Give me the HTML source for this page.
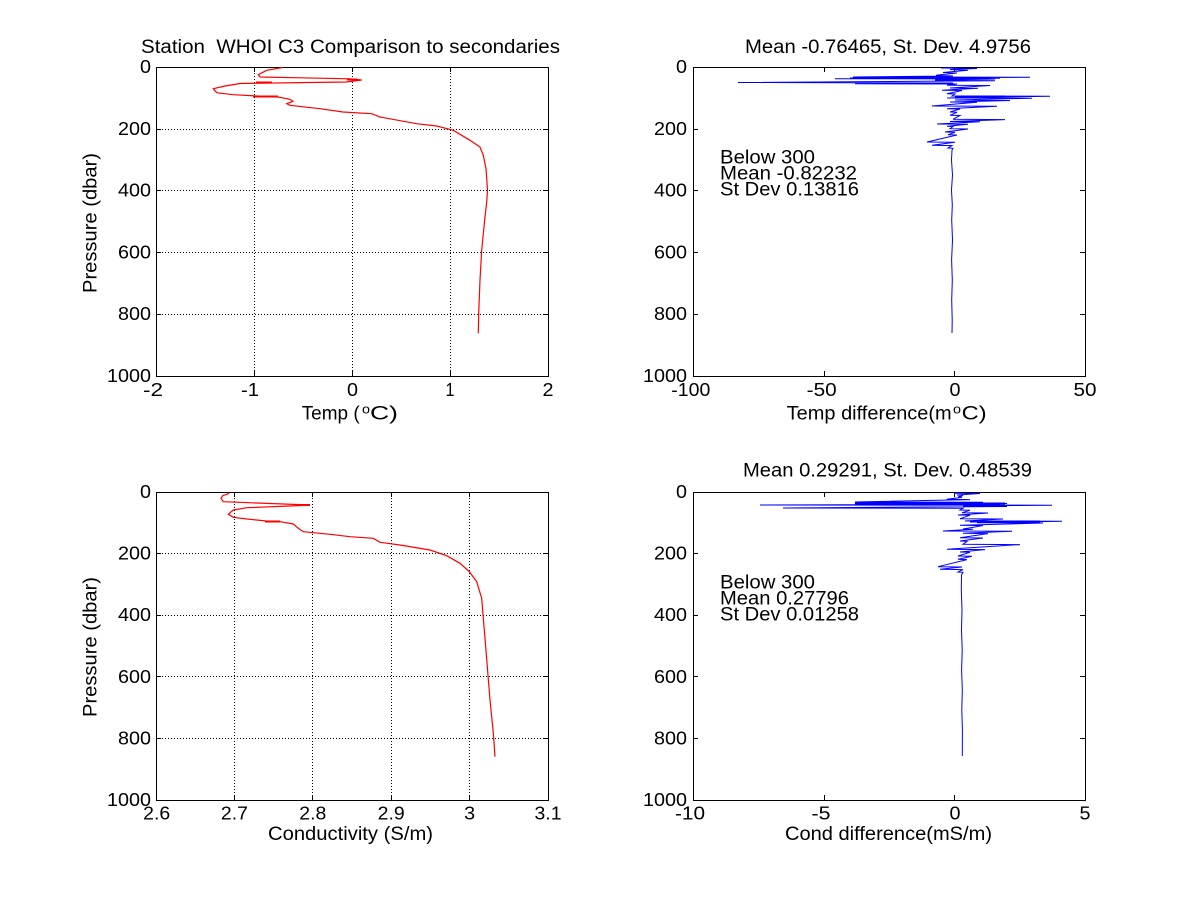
<!DOCTYPE html>
<html><head><meta charset="utf-8"><style>
html,body{margin:0;padding:0;background:#fff;}
svg{display:block;}
text{font-family:"Liberation Sans",Arial,sans-serif;fill:#000;}
.tk{font-size:18px;}
.lb{font-size:19px;}
.sup{font-size:13px;}
.grid{stroke:#000;stroke-width:1;stroke-dasharray:1 2;fill:none;}
.ax{stroke:#000;stroke-width:1;fill:none;}
</style></head><body>
<svg width="1200" height="901" viewBox="0 0 1200 901" xmlns="http://www.w3.org/2000/svg">
<rect width="1200" height="901" fill="#fff"/>

<!-- ============ TOP LEFT ============ -->
<g>
<path class="grid" d="M254.5 67V376M352.5 67V376M450.5 67V376M156 129.5H548M156 190.5H548M156 252.5H548M156 314.5H548"/>
<rect class="ax" x="156.5" y="67.5" width="392" height="309"/>
<path class="ax" d="M254.5 376v-5M352.5 376v-5M450.5 376v-5M254.5 67v5M352.5 67v5M450.5 67v5M156 129.5h5M156 190.5h5M156 252.5h5M156 314.5h5M548 129.5h-5M548 190.5h-5M548 252.5h-5M548 314.5h-5"/>
<polyline fill="none" stroke="#ff0000" stroke-width="1.2" points="282.7,67.5 266.7,70.3 258.3,74.7 260,77 300,77.8 350,78.8 361.7,80 346,82 300,82.6 240,83.5 225,86 213.3,88.7 216.7,92.7 233,94.7 256.7,96 278,97 290,99.3 293,101.3 286.7,103.7 290,105.3 320,108.7 343,112 371.7,113.7 380,117 416.7,123.7 436.7,126 453.3,130.3 470,140.3 480,147 483.3,155.3 486,168.7 487.5,190 486.7,202 485,216.7 481.7,250 480,280 478.7,313.3 478.3,333.3"/>
<path stroke="#ff0000" stroke-width="2" d="M256 82.5h16M253 96.5h25M347 79.5h10"/>
<text class="lb" x="141" y="53" textLength="419" lengthAdjust="spacingAndGlyphs" xml:space="preserve">Station  WHOI C3 Comparison to secondaries</text>
<g class="tk" text-anchor="end">
<text x="151" y="73" textLength="11" lengthAdjust="spacingAndGlyphs">0</text>
<text x="151" y="135" textLength="33" lengthAdjust="spacingAndGlyphs">200</text>
<text x="151" y="196.6" textLength="33" lengthAdjust="spacingAndGlyphs">400</text>
<text x="151" y="258.4" textLength="33" lengthAdjust="spacingAndGlyphs">600</text>
<text x="151" y="320.2" textLength="33" lengthAdjust="spacingAndGlyphs">800</text>
<text x="151" y="382" textLength="44" lengthAdjust="spacingAndGlyphs">1000</text>
</g>
<g class="tk" text-anchor="middle">
<text x="153" y="396" textLength="20" lengthAdjust="spacingAndGlyphs">-2</text>
<text x="250" y="396" textLength="18" lengthAdjust="spacingAndGlyphs">-1</text>
<text x="352.5" y="396" textLength="11" lengthAdjust="spacingAndGlyphs">0</text>
<text x="450" y="396" textLength="9" lengthAdjust="spacingAndGlyphs">1</text>
<text x="548" y="396" textLength="11" lengthAdjust="spacingAndGlyphs">2</text>
</g>
<text class="lb" x="301.7" y="419.5" textLength="58" lengthAdjust="spacingAndGlyphs">Temp (</text>
<text class="sup" x="362" y="413.5" textLength="8" lengthAdjust="spacingAndGlyphs">o</text>
<text class="lb" x="370" y="419.5" textLength="28" lengthAdjust="spacingAndGlyphs">C)</text>
<text class="lb" transform="translate(96.5,223) rotate(-90)" text-anchor="middle" textLength="140" lengthAdjust="spacingAndGlyphs">Pressure (dbar)</text>
</g>

<!-- ============ TOP RIGHT ============ -->
<g>
<rect class="ax" x="693.5" y="67.5" width="392" height="309"/>
<path class="ax" d="M824.5 376v-5M954.5 376v-5M824.5 67v5M954.5 67v5M693 129.5h5M693 190.5h5M693 252.5h5M693 314.5h5M1085 129.5h-5M1085 190.5h-5M1085 252.5h-5M1085 314.5h-5"/>
<polyline fill="none" stroke="#0000ff" stroke-width="1" points="952,67.5 941,68 977,68.5 950,69.5 968,70.3 943,72.5 957,73 936,75.3 953,76 853,77 1030,77.3 850,78 1000,78.3 835,78.7 995,79 945,80 968,80.5 995,80.8 738,82.5 953,83 855,83.8 957,84 947,85.3 990,85.5 950,88 978,88.3 942,90.3 962,90.5 947,93.7 955,94 952,96 1050,96.2 947,98 1032,98.2 955,100 1010,100.5 950,102 977,102.3 932,106 997,106.3 947,108.7 960,109 950,112 957,112.3 950,115.3 960,115.5 953,119.3 1005,119.6 950,121.5 980,121.7 937,124 968,124.3 947,126.3 953,126.5 950,128.7 968,129 945,132 955,132.3 948,134.7 957,135 927,142 955,142.3 932,145.3 952,145.6 948,148 953,148.3 952,150 951.5,160 952.5,175 951.5,190 952.3,205 951.7,220 952.5,240 951.6,260 952.3,280 951.7,300 952.2,320 952,333"/>
<path stroke="#0000ff" stroke-width="2" d="M880 78h110M955 96.5h50M935 80h30"/>
<text class="lb" x="745" y="53" textLength="286" lengthAdjust="spacingAndGlyphs">Mean -0.76465, St. Dev. 4.9756</text>
<g class="tk" text-anchor="end">
<text x="687" y="73" textLength="11" lengthAdjust="spacingAndGlyphs">0</text>
<text x="687" y="135" textLength="33" lengthAdjust="spacingAndGlyphs">200</text>
<text x="687" y="196.6" textLength="33" lengthAdjust="spacingAndGlyphs">400</text>
<text x="687" y="258.4" textLength="33" lengthAdjust="spacingAndGlyphs">600</text>
<text x="687" y="320.2" textLength="33" lengthAdjust="spacingAndGlyphs">800</text>
<text x="687" y="382" textLength="44" lengthAdjust="spacingAndGlyphs">1000</text>
</g>
<g class="tk" text-anchor="middle">
<text x="690.8" y="396" textLength="39" lengthAdjust="spacingAndGlyphs">-100</text>
<text x="821.7" y="396" textLength="30" lengthAdjust="spacingAndGlyphs">-50</text>
<text x="955" y="396" textLength="11" lengthAdjust="spacingAndGlyphs">0</text>
<text x="1085" y="396" textLength="23" lengthAdjust="spacingAndGlyphs">50</text>
</g>
<text class="lb" x="786.7" y="419.5" textLength="165" lengthAdjust="spacingAndGlyphs">Temp difference(m</text>
<text class="sup" x="953" y="413.5" textLength="8" lengthAdjust="spacingAndGlyphs">o</text>
<text class="lb" x="961.7" y="419.5" textLength="25" lengthAdjust="spacingAndGlyphs">C)</text>
<text class="lb" x="720" y="163.5" textLength="95" lengthAdjust="spacingAndGlyphs">Below 300</text>
<text class="lb" x="720" y="179.5" textLength="137" lengthAdjust="spacingAndGlyphs">Mean -0.82232</text>
<text class="lb" x="720" y="195.5" textLength="139" lengthAdjust="spacingAndGlyphs">St Dev 0.13816</text>
</g>

<!-- ============ BOTTOM LEFT ============ -->
<g>
<path class="grid" d="M234.5 492V800M312.5 492V800M391.5 492V800M469.5 492V800M156 553.5H548M156 615.5H548M156 676.5H548M156 738.5H548"/>
<rect class="ax" x="156.5" y="492.5" width="392" height="308"/>
<path class="ax" d="M234.5 800v-5M312.5 800v-5M391.5 800v-5M469.5 800v-5M234.5 492v5M312.5 492v5M391.5 492v5M469.5 492v5M156 553.5h5M156 615.5h5M156 676.5h5M156 738.5h5M548 553.5h-5M548 615.5h-5M548 676.5h-5M548 738.5h-5"/>
<polyline fill="none" stroke="#ff0000" stroke-width="1.2" points="229.3,493.3 222.7,495.7 221,498.3 223.3,501.7 270,503.5 310,505 290,506 246.7,507.7 233.3,510 228.3,514.3 233.3,517.3 246.7,519 266.7,521 280,521.7 293.3,524 298.3,528.3 303.3,531.7 330,534.3 350,536.7 373.3,538.3 380,542.3 400,545 430,550 446.7,555.7 460,563.3 469.3,571.7 476.7,581.7 481.7,598.3 483.3,618.3 485,638.3 487.3,666.7 490,700 493.3,733 495,756.7"/>
<path stroke="#ff0000" stroke-width="2" d="M300 505h10M265 521.5h15"/>
<g class="tk" text-anchor="end">
<text x="151" y="498" textLength="11" lengthAdjust="spacingAndGlyphs">0</text>
<text x="151" y="559.6" textLength="33" lengthAdjust="spacingAndGlyphs">200</text>
<text x="151" y="621.2" textLength="33" lengthAdjust="spacingAndGlyphs">400</text>
<text x="151" y="682.8" textLength="33" lengthAdjust="spacingAndGlyphs">600</text>
<text x="151" y="744.4" textLength="33" lengthAdjust="spacingAndGlyphs">800</text>
<text x="151" y="806" textLength="44" lengthAdjust="spacingAndGlyphs">1000</text>
</g>
<g class="tk" text-anchor="middle">
<text x="156.7" y="819.5" textLength="27" lengthAdjust="spacingAndGlyphs">2.6</text>
<text x="234.4" y="819.5" textLength="27" lengthAdjust="spacingAndGlyphs">2.7</text>
<text x="312.8" y="819.5" textLength="27" lengthAdjust="spacingAndGlyphs">2.8</text>
<text x="391.2" y="819.5" textLength="27" lengthAdjust="spacingAndGlyphs">2.9</text>
<text x="469.6" y="819.5" textLength="11" lengthAdjust="spacingAndGlyphs">3</text>
<text x="548" y="819.5" textLength="27" lengthAdjust="spacingAndGlyphs">3.1</text>
</g>
<text class="lb" x="268" y="840" textLength="165" lengthAdjust="spacingAndGlyphs">Conductivity (S/m)</text>
<text class="lb" transform="translate(96.5,647) rotate(-90)" text-anchor="middle" textLength="140" lengthAdjust="spacingAndGlyphs">Pressure (dbar)</text>
</g>

<!-- ============ BOTTOM RIGHT ============ -->
<g>
<rect class="ax" x="693.5" y="492.5" width="392" height="308"/>
<path class="ax" d="M824.5 800v-5M954.5 800v-5M824.5 492v5M954.5 492v5M693 553.5h5M693 615.5h5M693 676.5h5M693 738.5h5M1085 553.5h-5M1085 615.5h-5M1085 676.5h-5M1085 738.5h-5"/>
<polyline fill="none" stroke="#0000ff" stroke-width="1" points="960,492.5 954,493.3 980,493.5 957,495 963,495.5 958,497 962,497.3 946.7,499.3 970,499.6 855,502 983,502.2 862,503.3 1007,503.5 870,504 1000,504.3 760,505 1052,505.2 963,506 1007,506.5 783,508 963,508.3 960,510 970,510.3 962,512.7 988,513 958,515 970,515.3 960,518.7 1003,519 965,521 1062,521.2 977,522.7 1043,523 960,525.3 983,525.6 963,529 973,529.3 943,531 1012,531.3 963,533.3 988,533.6 960,537.7 983,538 960,541 967,541.3 963,544.3 1020,544.6 947,549.3 985,549.6 960,552 970,552.3 958,556 972,556.3 958,559.3 967,559.6 938,566.7 962,567 940,569.3 963,569.6 958,572 963,572.3 961.5,575 961.3,590 962,610 961.5,630 962.2,650 961.6,670 962.3,690 961.8,710 962.4,730 962.3,756"/>
<path stroke="#0000ff" stroke-width="2" d="M855 503.5h150M970 521.5h70"/>
<text class="lb" x="743" y="476.5" textLength="289" lengthAdjust="spacingAndGlyphs">Mean 0.29291, St. Dev. 0.48539</text>
<g class="tk" text-anchor="end">
<text x="687" y="498" textLength="11" lengthAdjust="spacingAndGlyphs">0</text>
<text x="687" y="559.6" textLength="33" lengthAdjust="spacingAndGlyphs">200</text>
<text x="687" y="621.2" textLength="33" lengthAdjust="spacingAndGlyphs">400</text>
<text x="687" y="682.8" textLength="33" lengthAdjust="spacingAndGlyphs">600</text>
<text x="687" y="744.4" textLength="33" lengthAdjust="spacingAndGlyphs">800</text>
<text x="687" y="806" textLength="44" lengthAdjust="spacingAndGlyphs">1000</text>
</g>
<g class="tk" text-anchor="middle">
<text x="690" y="819.5" textLength="30" lengthAdjust="spacingAndGlyphs">-10</text>
<text x="821" y="819.5" textLength="19" lengthAdjust="spacingAndGlyphs">-5</text>
<text x="955" y="819.5" textLength="11" lengthAdjust="spacingAndGlyphs">0</text>
<text x="1085" y="819.5" textLength="11" lengthAdjust="spacingAndGlyphs">5</text>
</g>
<text class="lb" x="785" y="840" textLength="207" lengthAdjust="spacingAndGlyphs">Cond difference(mS/m)</text>
<text class="lb" x="720" y="588.3" textLength="95" lengthAdjust="spacingAndGlyphs">Below 300</text>
<text class="lb" x="720" y="604.3" textLength="129" lengthAdjust="spacingAndGlyphs">Mean 0.27796</text>
<text class="lb" x="720" y="620.3" textLength="139" lengthAdjust="spacingAndGlyphs">St Dev 0.01258</text>
</g>
</svg>
</body></html>
